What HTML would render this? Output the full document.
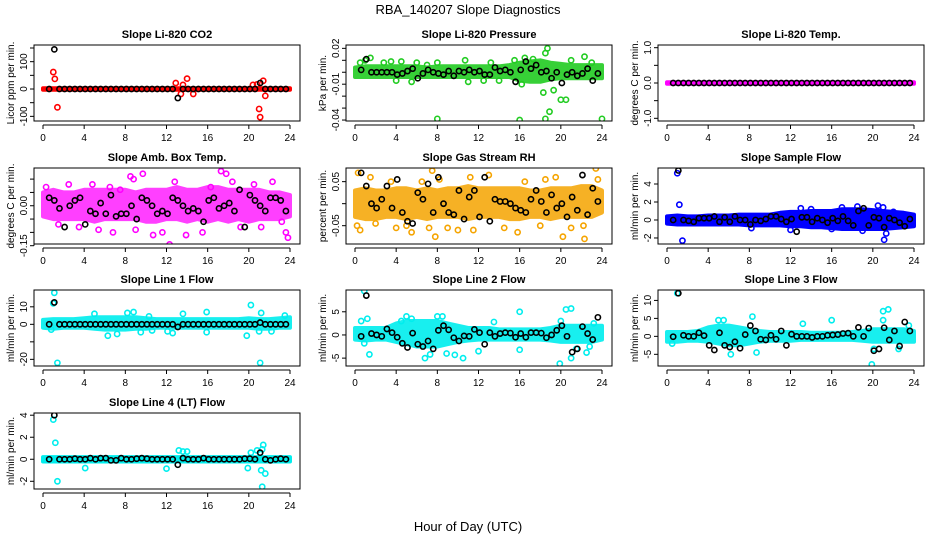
<!DOCTYPE html>
<html><head><meta charset="utf-8"><style>
html,body{margin:0;padding:0;background:#fff;}
svg{display:block;font-family:"Liberation Sans",Arial,sans-serif;}
</style></head><body>
<svg id="chart" width="936" height="540" viewBox="0 0 936 540">
<text x="468" y="14" text-anchor="middle" font-size="13">RBA_140207  Slope Diagnostics</text>
<text x="468" y="531" text-anchor="middle" font-size="13">Hour of Day (UTC)</text>
</svg>
<script>
// ---- data (hourly band envelopes, outliers as [hour,value], black reference points every 0.5 h from 0.6 h) ----
const hourTicks = [0,4,8,12,16,20,24];
const titles = ["Slope Li-820 CO2","Slope Li-820 Pressure","Slope Li-820 Temp.","Slope Amb. Box Temp.","Slope Gas Stream RH","Slope Sample Flow","Slope Line 1 Flow","Slope Line 2 Flow","Slope Line 3 Flow","Slope Line 4 (LT) Flow"];
const yTitles = ["Licor ppm per min.","kPa per min.","degrees C per min.","degrees C per min.","percent per min.","ml/min per min.","ml/min per min.","ml/min per min.","ml/min per min.","ml/min per min."];
const yTicks = [[-100,-50,0,50,100,150],[-0.04,-0.03,-0.02,-0.01,0,0.01,0.02],[-1,-0.5,0,0.5,1],[-0.15,-0.1,-0.05,0,0.05,0.1],[-0.05,0,0.05],[-2,0,2,4],[-20,-10,0,10],[-5,0,5],[-5,0,5,10],[-2,0,2,4]];
const yTickLabels = [["-100","","0","","100",""],["-0.04","","","-0.01","","","0.02"],["-1.0","","0.0","","1.0"],["-0.15","","","0.00","",""],["-0.05","","0.05"],["-2","0","2","4"],["-20","","0","10"],["-5","0","5"],["-5","0","5","10"],["-2","0","2","4"]];
const yRanges = [[-117,161],[-0.0408,0.0228],[-1.076,1.076],[-0.1436,0.1417],[-0.0916,0.081],[-2.67,5.78],[-23.8,19.6],[-6.7,9.7],[-8.25,12.9],[-2.7,4.2]];
const colors = ["#ff0000","#22cc22","#ff00ff","#ff00ff","#f5a400","#0000ff","#00eeee","#00eeee","#00eeee","#00eeee"];
const bandOpacity = [1,0.9,1,0.75,0.85,1,0.9,0.9,0.9,1];

const bandLo = [
 [-3,-3,-3,-3,-3,-3,-3,-3,-3,-3,-3,-3,-3,-3,-3,-3,-3,-3,-3,-3,-3,-3,-3,-3,-3],
 [-.004,-.004,-.004,-.004,-.004,-.004,-.004,-.004,-.004,-.004,-.004,-.004,-.004,-.004,-.004,-.004,-.007,-.008,-.008,-.006,-.005,-.005,-.005,-.005,-.005],
 [-.02,-.02,-.02,-.02,-.02,-.02,-.02,-.02,-.02,-.02,-.02,-.02,-.02,-.02,-.02,-.02,-.02,-.02,-.02,-.02,-.02,-.02,-.02,-.02,-.02],
 [-.04,-.05,-.05,-.05,-.05,-.06,-.05,-.05,-.05,-.05,-.06,-.06,-.05,-.05,-.06,-.05,-.06,-.05,-.06,-.05,-.06,-.05,-.05,-.05,-.04],
 [-.03,-.035,-.035,-.03,-.03,-.035,-.03,-.035,-.03,-.03,-.03,-.035,-.03,-.03,-.03,-.035,-.035,-.03,-.03,-.035,-.03,-.03,-.03,-.03,-.02],
 [-.4,-.5,-.5,-.5,-.5,-.5,-.5,-.5,-.6,-.6,-.6,-.6,-.7,-.7,-.8,-.8,-.9,-1,-1,-1,-1,-1,-.9,-.8,-.7],
 [-2,-2.5,-2,-2,-2,-2.5,-3,-3,-3,-2.5,-2.5,-2,-2,-2,-2,-2,-2,-2,-2,-2,-2,-2.5,-2.5,-2,-2],
 [-1,-1.2,-1,-1,-1.5,-2,-2.5,-2.5,-2.5,-2,-1.5,-1.2,-1,-1,-1,-1,-1,-1,-1,-1.2,-1.5,-1.5,-1.5,-1.5,-1],
 [-1.5,-1.5,-1.2,-1.2,-1.5,-2,-2.5,-2.5,-2,-1.5,-1.2,-1.2,-1.2,-1,-1,-1,-1,-1,-1,-1.2,-1.5,-1.5,-1.5,-1.5,-1.5],
 [-.2,-.2,-.2,-.2,-.2,-.2,-.2,-.2,-.2,-.2,-.2,-.2,-.2,-.2,-.2,-.2,-.2,-.2,-.2,-.2,-.2,-.2,-.2,-.2,-.2]
];
const bandHi = [
 [3,3,3,3,3,3,3,3,3,3,3,3,3,3,3,3,3,3,3,3,3,3,3,3,3],
 [.004,.005,.005,.005,.005,.005,.005,.004,.005,.005,.005,.005,.005,.005,.005,.006,.008,.009,.010,.008,.007,.006,.006,.006,.006],
 [.02,.02,.02,.02,.02,.02,.02,.02,.02,.02,.02,.02,.02,.02,.02,.02,.02,.02,.02,.02,.02,.02,.02,.02,.02],
 [.05,.06,.05,.05,.06,.06,.06,.06,.06,.05,.06,.06,.06,.07,.06,.06,.07,.07,.06,.06,.06,.06,.05,.05,.04],
 [.03,.035,.03,.03,.035,.035,.03,.035,.03,.035,.035,.04,.035,.035,.035,.035,.035,.03,.03,.035,.035,.035,.04,.04,.03],
 [.4,.5,.4,.4,.5,.5,.5,.6,.6,.6,.6,.8,.9,.9,1,1,1,1.2,1.2,1.2,1.1,1,.9,.8,.6],
 [2.5,3,3,3,3.5,4,4,4,4,4,3.5,3,3,3,3,3,3,3,3,3,3.5,3,3,3.5,4],
 [1.5,1.5,1.5,1.5,2.5,3,3,3,3,2.5,2,1.5,1.5,1.5,1.2,1.2,1.2,1.2,1.2,1.5,2,2,2,2,2],
 [1.2,1.2,1.2,1.5,2.5,3,3,2.5,2,1.5,1.2,1.2,1.2,1.2,1,1,1,1,1.2,1.5,2,2,2,2,1.5],
 [.2,.2,.2,.2,.2,.2,.2,.2,.2,.2,.2,.2,.2,.2,.2,.2,.2,.2,.2,.2,.2,.2,.2,.2,.2]
];
const outliers = [
 [[1.0,62],[1.15,37],[1.4,-67],[12.9,22],[13.6,15],[13.4,-18],[14.0,38],[14.6,-18],[20.4,15],[20.8,17],[21.0,-73],[21.1,-103],[21.4,30],[21.6,-25]],
 [[0.5,.008],[1,.010],[1.5,.012],[2.8,.008],[3.5,.009],[4,-.007],[4.5,.009],[5.5,-.008],[6,.008],[7,.006],[8,-.039],[8,.008],[10.7,.010],[11,-.008],[12.5,-.007],[13.2,.008],[14,-.007],[15.5,.010],[16,-.040],[16.2,-.010],[16.5,.012],[17.3,.011],[18.3,-.017],[18.5,-.039],[18.7,.020],[18.5,.016],[18.9,-.033],[19.3,-.015],[20,-.023],[20.5,-.023],[21,.010],[22.3,.013],[23,.008],[24,-.039]],
 [],
 [[0.3,.07],[1.5,-.07],[2.5,.08],[3.5,-.08],[4.8,.08],[5.4,-.09],[6.5,.07],[7.5,.06],[8.5,.11],[9,-.09],[9.7,.12],[10.7,-.11],[11.6,-.10],[12.3,-.145],[12.8,.09],[13.9,-.11],[15.5,-.1],[16.3,.07],[17.3,.13],[17.8,.12],[18.4,.09],[19.2,-.08],[20.5,.08],[21.2,-.08],[22.3,.09],[23.2,-.06],[23.6,-.10],[23.8,-.12],[6.8,-.10],[8.8,.10]],
 [[0.3,.07],[0.5,-.06],[0.2,-.05],[1.5,.06],[2,-.045],[3.5,.05],[4,-.055],[5,-.05],[5.5,-.065],[6.5,.05],[7.2,-.055],[7.5,.075],[7.8,-.075],[8.2,.055],[9,-.055],[10,-.06],[11.2,.06],[11.5,-.06],[13,.065],[14.5,-.055],[15.8,-.065],[16.5,.05],[18,-.05],[18.5,.055],[19.5,.06],[20.2,-.075],[21,-.055],[22.3,-.08],[22.2,-.05],[23.4,.08],[23.6,.055]],
 [[1.0,5.2],[1.2,1.7],[1.5,-2.3],[8.2,-.9],[12,-1.1],[13,1.3],[14,1.2],[16,-1],[17,1.4],[18.5,1.5],[19,-1.2],[20.5,1.6],[21,1.4],[21.3,-1.5],[21.1,-2.2],[22,.9]],
 [[1.0,12],[1.1,18],[1.4,-22],[0.8,-3],[5,6],[6.3,-6.5],[7.2,-5.5],[8.2,6.5],[8.8,7],[9.5,-4.5],[10.3,4.5],[10.6,-3.5],[12.1,-4],[12.6,-5],[13.6,6],[15.9,-4.5],[15.9,7],[19.8,-6.5],[20.2,11],[21.1,-22],[21.2,6.5],[21,-4],[22.2,-4],[23.5,5]],
 [[0.9,9.5],[0.6,3],[0.9,-1.8],[1.2,3.5],[1.4,-4.2],[4.5,3],[5,4],[5.5,3.5],[6.8,-5],[7.3,-4.2],[8,4],[8.5,4],[8.9,-4],[9.7,-4.3],[10.5,-5],[12,-3.5],[13.5,2.8],[16,5],[16,-3.2],[19.9,-6.2],[20,3],[20.5,5.5],[21,5.7],[21,-5],[21.5,-3],[22.5,-3.8],[22.8,-2.5],[23.2,2.5]],
 [[1.0,12],[0.5,-2],[5,4.5],[5.5,4.5],[6.2,-5],[8.3,5.5],[8.7,-4.5],[13.2,3.5],[16,4.5],[19.9,-7.8],[20.1,-3.5],[21,7],[21.5,7.5],[21,4.5],[22.5,-3.5],[23.5,3]],
 [[1.0,3.6],[1.2,1.5],[1.4,-2],[4.1,-.8],[12,-.85],[13.2,.8],[13.6,.7],[14,.7],[19.9,-.8],[20.2,.6],[20.8,.8],[21.2,-1],[21.3,-2.5],[21.4,1.3],[21.6,-1.3],[21.3,.9]]
];
const blackVals = [
 [0,145,0,0,0,0,0,0,0,0,0,0,0,0,0,0,0,0,0,0,0,0,0,0,0,-33,0,0,0,0,0,0,0,0,0,0,0,0,0,0,0,22,0,0,0,0,0],
 [.002,.011,0,0,0,0,0,-.002,-.001,.001,.003,-.005,-.001,.002,0,-.001,-.002,.001,-.003,.001,0,.002,0,.001,-.002,-.002,.004,.001,.002,0,-.008,.002,.009,.003,.006,0,.001,-.005,0,-.009,-.002,0,-.003,-.001,.003,-.007,-.001],
 [0,0,0,0,0,0,0,0,0,0,0,0,0,0,0,0,0,0,0,0,0,0,0,0,0,0,0,0,0,0,0,0,0,0,0,0,0,0,0,0,0,0,0,0,0,0,0],
 [.03,.02,-.01,-.08,0,.02,.03,-.07,-.02,-.03,.01,-.03,.04,-.04,-.03,-.03,0,-.05,.03,.02,0,-.03,-.02,-.03,.03,.02,0,-.02,-.01,-.02,-.06,.02,.03,-.01,0,.01,-.02,.06,-.08,.04,.02,0,-.02,.03,.03,.02,-.02],
 [.07,.04,0,-.01,.01,.04,-.01,.055,-.02,-.04,-.045,.025,.01,.045,-.02,.06,0,-.02,-.025,.03,-.035,.015,.03,-.03,.06,-.04,.01,.005,.005,0,-.01,-.015,-.02,.01,.03,.005,-.02,.02,-.01,0,-.03,.015,-.015,.065,-.025,.035,.005],
 [0,5.5,0,-.1,-.2,.2,.2,.2,.4,-.2,.3,-.2,.4,0,0,-.5,0,-.1,.1,.4,.4,.1,-.2,.1,-1.3,.3,.3,-.2,.2,0,-.3,.2,-.1,.4,-.1,-.6,1,1.3,-.6,.3,.2,-.8,.2,0,-.3,-.7,.1],
 [0,12.5,0,0,0,0,0,0,0,0,0,0,0,0,0,0,0,0,0,0,0,0,0,0,0,-1.5,0,0,0,0,0,0,0,0,0,0,0,0,0,0,0,1,0,0,0,0,0],
 [-.3,8.5,.3,0,-.3,1.3,.5,-.5,-1.8,-2.7,.4,-2,-2.5,-1.3,-3,1,2,1.1,-.6,-1.3,-.2,-.3,1.2,.5,-2,.5,-.3,.3,.5,.4,-.5,.3,-.5,.5,.5,.4,-.6,0,1,2,-.3,-3.7,-3,1.8,.3,-1,3.8],
 [-.1,12,.3,0,0,1,.2,-2.5,-3.8,1,-2.5,-3,-1.5,-3.3,.5,3,1.5,-.8,-1,.3,-.8,1.5,-2.5,.6,0,0,0,-.3,0,0,.3,.4,.5,.8,.9,0,2.5,0,2.3,-4,-3.5,2.4,-1,1.5,-2.7,4,1.5],
 [0,4,0,0,0,0.05,0,0,0.1,0,0.1,0.1,-0.1,-0.1,.1,0,0,.05,.1,.05,0,0,0,0,0,-.5,.1,0,0,0,.1,0,0,0,0,0,0,0,.05,.05,0,.6,0,-.1,0,.05,0]
];

// ---- layout ----
const NS = "http://www.w3.org/2000/svg";
const svg = document.getElementById("chart");
const colLeft = [34,346,658], rowTop = [45,168,290,413];
const boxW = 266, boxH = 76, x0off = 9, x24off = 256;
function mk(tag, attrs, parent){ const e=document.createElementNS(NS,tag); for(const k in attrs) e.setAttribute(k,attrs[k]); (parent||svg).appendChild(e); return e; }

for (let p=0;p<titles.length;p++){
  const L = colLeft[p%3], T = rowTop[Math.floor(p/3)];
  const g = mk("g",{});
  
  
  const xs = h => L + x0off + (h/24)*(x24off-x0off);
  const [ymin,ymax] = yRanges[p];
  const ys = v => T + boxH - (v-ymin)/(ymax-ymin)*boxH;
  const clipId = "clip"+p;
  const cp = mk("clipPath",{id:clipId},g); mk("rect",{x:L,y:T,width:boxW,height:boxH},cp);
  const data = mk("g",{"clip-path":"url(#"+clipId+")"},g);
  let d="";
  for(let i=0;i<bandHi[p].length;i++){ const h=i*24/(bandHi[p].length-1); d+=(i?"L":"M")+xs(h).toFixed(1)+","+ys(bandHi[p][i]).toFixed(1); }
  for(let i=bandLo[p].length-1;i>=0;i--){ const h=i*24/(bandLo[p].length-1); d+="L"+xs(h).toFixed(1)+","+ys(bandLo[p][i]).toFixed(1); }
  const band = mk("path",{d:d+"Z",fill:colors[p],stroke:colors[p],"stroke-width":4,"stroke-linejoin":"round",opacity:bandOpacity[p]},data);
  
  
  for(const [h,v] of outliers[p]){
    const c = mk("circle",{cx:xs(h),cy:ys(v),r:2.6,fill:"none",stroke:colors[p],"stroke-width":1.6},data);
    
    
  }
  blackVals[p].forEach((v,i)=>{
    const c = mk("circle",{cx:xs(0.6+0.5*i),cy:ys(v),r:2.6,fill:"none",stroke:"#000","stroke-width":1.6},data);
    
    
  });
  const box = mk("rect",{x:L,y:T,width:boxW,height:boxH,fill:"none",stroke:"#000","stroke-width":1},g);
  
  
  const t = mk("text",{x:L+boxW/2,y:T-7,"text-anchor":"middle","font-size":11,"font-weight":"bold"},g);
  t.textContent = titles[p];
  
  
  const ay = T+boxH+4;
  mk("line",{x1:xs(0),x2:xs(24),y1:ay,y2:ay,stroke:"#000"},g);
  hourTicks.forEach(h=>{
    mk("line",{x1:xs(h),x2:xs(h),y1:ay,y2:ay+4,stroke:"#000"},g);
    const tl = mk("text",{x:xs(h),y:ay+16,"text-anchor":"middle","font-size":10},g);
    tl.textContent = h;
    
    
  });
  const tk = yTicks[p];
  mk("line",{x1:L,x2:L,y1:ys(tk[0]),y2:ys(tk[tk.length-1]),stroke:"#000"},g);
  tk.forEach((v,i)=>{
    mk("line",{x1:L-4,x2:L,y1:ys(v),y2:ys(v),stroke:"#000"},g);
    const lab = yTickLabels[p][i];
    if(lab){
      const yl = mk("text",{x:0,y:0,"text-anchor":"middle","font-size":10,transform:"translate("+(L-7)+","+ys(v).toFixed(1)+") rotate(-90)"},g);
      yl.textContent = lab;
      
      
    }
  });
  const yt = mk("text",{x:0,y:0,"text-anchor":"middle","font-size":10,transform:"translate("+(L-20)+","+(T+boxH/2)+") rotate(-90)"},g);
  yt.textContent = yTitles[p];
  
  
}
</script>
</body></html>
